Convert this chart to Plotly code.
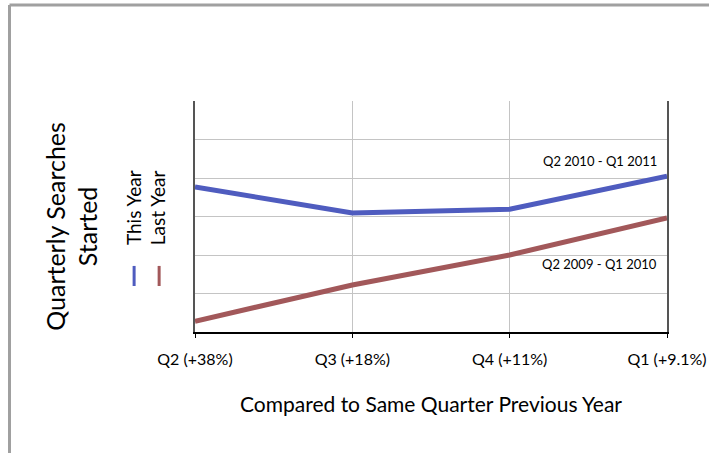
import plotly.graph_objects as go

# quarters on the x axis, with growth vs same quarter previous year
quarters = ["Q2 (+38%)", "Q3 (+18%)", "Q4 (+11%)", "Q1 (+9.1%)"]
this_year = [3.77, 3.09, 3.19, 4.05]   # Q2 2010 - Q1 2011
last_year = [0.28, 1.22, 2.0, 2.96]    # Q2 2009 - Q1 2010

FONT = "Lato"
BLUE = "#4f5cbf"
RED = "#a2585a"

fig = go.Figure()
fig.add_trace(go.Scatter(x=quarters, y=this_year, mode="lines", name="This Year",
                         line=dict(color=BLUE, width=5)))
fig.add_trace(go.Scatter(x=quarters, y=last_year, mode="lines", name="Last Year",
                         line=dict(color=RED, width=5)))

fig.update_layout(
    width=709, height=453,
    margin=dict(l=195, r=42, t=101, b=121),
    paper_bgcolor="white", plot_bgcolor="white",
    showlegend=False,
    font=dict(family=FONT, color="black"),
    xaxis=dict(
        type="category", range=[0, 3], automargin=False,
        showgrid=True, gridcolor="#c4c4c4", gridwidth=1,
        showline=True, linecolor="black", linewidth=1.5,
        ticks="outside", ticklen=4, tickcolor="black",
        tickfont=dict(size=16), ticklabelstandoff=8,
        title=dict(text="Compared to Same Quarter Previous Year", font=dict(size=21), standoff=30),
    ),
    yaxis=dict(
        range=[0, 6], dtick=1, showticklabels=False, automargin=False,
        showgrid=True, gridcolor="#c4c4c4", gridwidth=1,
        showline=True, linecolor="#555555", linewidth=1.5, mirror=True,
        zeroline=False,
    ),
)

# series labels on the right
fig.add_annotation(x=1, y=4.45, xref="paper", yref="y", text="Q2 2010 - Q1 2011",
                   showarrow=False, xanchor="right", xshift=-8, font=dict(size=13))
fig.add_annotation(x=1, y=1.77, xref="paper", yref="y", text="Q2 2009 - Q1 2010",
                   showarrow=False, xanchor="right", xshift=-8, font=dict(size=13))

# rotated y title
fig.add_annotation(x=-0.261, y=0.459, xref="paper", yref="paper",
                   xanchor="center", yanchor="middle",
                   text="Quarterly Searches<br>Started", textangle=-90,
                   showarrow=False, font=dict(size=25))

# rotated legend
fig.add_annotation(x=-0.129, y=0.537, xref="paper", yref="paper", text="This Year",
                   xanchor="center", yanchor="middle",
                   textangle=-90, showarrow=False, font=dict(size=19))
fig.add_annotation(x=-0.078, y=0.537, xref="paper", yref="paper", text="Last Year",
                   xanchor="center", yanchor="middle",
                   textangle=-90, showarrow=False, font=dict(size=19))
fig.add_shape(type="line", xref="paper", yref="paper", x0=-0.129, x1=-0.129,
              y0=0.199, y1=0.286, line=dict(color=BLUE, width=3))
fig.add_shape(type="line", xref="paper", yref="paper", x0=-0.076, x1=-0.076,
              y0=0.199, y1=0.286, line=dict(color=RED, width=3))

# outer slide frame
fig.add_shape(type="line", xref="paper", yref="paper", x0=-0.393, x1=1.1,
              y0=1.416, y1=1.416, line=dict(color="#a0a0a0", width=3))
fig.add_shape(type="line", xref="paper", yref="paper", x0=-0.393, x1=-0.393,
              y0=1.416, y1=-0.6, line=dict(color="#a0a0a0", width=3))

# drop the browser's default body margin so the figure sits at the page origin
fig.write_html("out.html", config={"displayModeBar": False},
               post_script="document.body.style.margin='0';")
